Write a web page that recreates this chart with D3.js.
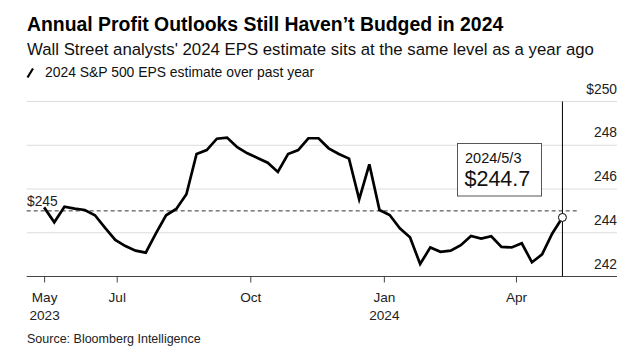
<!DOCTYPE html>
<html lang="en">
	<head>
		<meta charset="utf-8">
		<title>EPS estimate</title>
		<script type="text/javascript" src="https://d3js.org/d3.v7.min.js"></script>
		<style type="text/css">
			body { margin: 0; background: #fff; }
			text { font-family: "Liberation Sans", Arial, Helvetica, sans-serif; }
		</style>
	</head>
	<body>
		<script type="text/javascript">
			//Width and height
			var w = 639;
			var h = 354;

			//Data: weekly 2024 S&P 500 EPS estimate
			var dates = [
				"2023-05-12","2023-05-19","2023-05-26","2023-06-02","2023-06-09","2023-06-16","2023-06-23","2023-06-30",
				"2023-07-07","2023-07-14","2023-07-21","2023-07-28","2023-08-04","2023-08-11","2023-08-18","2023-08-25",
				"2023-09-01","2023-09-08","2023-09-15","2023-09-22","2023-09-29","2023-10-06","2023-10-13","2023-10-20",
				"2023-10-27","2023-11-03","2023-11-10","2023-11-17","2023-11-24","2023-12-01","2023-12-08","2023-12-15",
				"2023-12-22","2023-12-29","2024-01-05","2024-01-12","2024-01-19","2024-01-26","2024-02-02","2024-02-09",
				"2024-02-16","2024-02-23","2024-03-01","2024-03-08","2024-03-15","2024-03-22","2024-03-29","2024-04-05",
				"2024-04-12","2024-04-19","2024-04-26","2024-05-03"
			];
			var eps = [
				245.16, 244.48, 245.19, 245.10, 245.04, 244.80, 244.22, 243.67, 243.39, 243.18,
				243.09, 243.97, 244.80, 245.09, 245.76, 247.60, 247.78, 248.30, 248.35, 247.91,
				247.63, 247.42, 247.20, 246.78, 247.60, 247.78, 248.32, 248.32, 247.86, 247.60,
				247.39, 245.53, 247.13, 245.04, 244.81, 244.20, 243.79, 242.57, 243.33, 243.13,
				243.18, 243.43, 243.85, 243.73, 243.84, 243.35, 243.33, 243.52, 242.65, 243.01,
				243.97, 244.70
			];
			var yTicks = [242, 244, 246, 248, 250];
			var xTickDates = ["2023-05-12", "2023-07-01", "2023-10-01", "2024-01-01", "2024-04-01"];
			var xTickLabels = [["May", "2023"], ["Jul"], ["Oct"], ["Jan", "2024"], ["Apr"]];
			var refValue = 245;
			var lastLabel = "2024/5/3";

			var parse = d3.timeParse("%Y-%m-%d");
			var dataset = dates.map(function(d, i) {
				return { date: parse(d), value: eps[i] };
			});
			var last = dataset[dataset.length - 1];

			//Scales
			var xScale = d3.scaleTime()
				.domain([new Date(2023, 3, 30), new Date(2024, 5, 9, 14)])
				.range([26.7, 617]);

			var yScale = d3.scaleLinear()
				.domain([242, 250])
				.range([276.5, 101.5]);

			//Create SVG element
			var svg = d3.select("body")
				.append("svg")
				.attr("width", w)
				.attr("height", h);

			//Titles
			svg.append("text")
				.attr("x", 27)
				.attr("y", 30.5)
				.style("font-size", "19.4px")
				.style("font-weight", "bold")
				.attr("fill", "#000")
				.text("Annual Profit Outlooks Still Haven\u2019t Budged in 2024");

			svg.append("text")
				.attr("x", 27)
				.attr("y", 54.5)
				.style("font-size", "16.8px")
				.attr("fill", "#111")
				.text("Wall Street analysts' 2024 EPS estimate sits at the same level as a year ago");

			//Legend
			svg.append("line")
				.attr("x1", 27.5).attr("y1", 77.5)
				.attr("x2", 33).attr("y2", 68.5)
				.attr("stroke", "#000")
				.attr("stroke-width", 2.2);
			svg.append("text")
				.attr("x", 45)
				.attr("y", 76.5)
				.style("font-size", "13.9px")
				.attr("fill", "#111")
				.text("2024 S&P 500 EPS estimate over past year");

			//Gridlines
			svg.selectAll(".grid")
				.data(yTicks.slice(1))
				.enter()
				.append("line")
				.attr("class", "grid")
				.attr("x1", 26.7)
				.attr("x2", 617)
				.attr("y1", function(d) { return yScale(d); })
				.attr("y2", function(d) { return yScale(d); })
				.attr("stroke", "#dcdcdc")
				.attr("stroke-width", 1);

			//Y axis labels
			var yAxis = d3.axisLeft(yScale)
				.tickValues(yTicks)
				.tickSize(0)
				.tickPadding(0)
				.tickFormat(function(d) { return d === 250 ? "$250" : d; });

			var yG = svg.append("g")
				.attr("transform", "translate(617,0)")
				.call(yAxis);
			yG.select(".domain").remove();
			yG.selectAll("text")
				.attr("dy", -8.3)
				.attr("fill", "#222")
				.style("font-size", "13.8px")
				.style("font-family", "'Liberation Sans', Arial, sans-serif");

			//X axis
			var xAxis = d3.axisBottom(xScale)
				.tickValues(xTickDates.map(parse))
				.tickSize(6)
				.tickPadding(0)
				.tickFormat("");

			var xG = svg.append("g")
				.attr("transform", "translate(0," + yScale(242) + ")")
				.call(xAxis);
			xG.select(".domain")
				.attr("d", "M26.7,0H617")
				.attr("stroke", "#444");
			xG.selectAll(".tick line").attr("stroke", "#444");
			xG.selectAll(".tick text").remove();

			xG.selectAll(".tick")
				.each(function(d, i) {
					var t = d3.select(this).append("text")
						.attr("text-anchor", "middle")
						.attr("fill", "#222")
						.style("font-size", "13.6px")
						.style("font-family", "'Liberation Sans', Arial, sans-serif");
					xTickLabels[i].forEach(function(lbl, j) {
						t.append("tspan")
							.attr("x", 0)
							.attr("y", 25 + j * 18)
							.text(lbl);
					});
				});

			//Reference dashed line at $245
			svg.append("line")
				.attr("x1", 26.7)
				.attr("x2", 578)
				.attr("y1", yScale(refValue))
				.attr("y2", yScale(refValue))
				.attr("stroke", "#333")
				.attr("stroke-width", 1)
				.attr("stroke-dasharray", "4,3");

			svg.append("text")
				.attr("x", 27)
				.attr("y", yScale(refValue) - 5)
				.style("font-size", "13.8px")
				.attr("fill", "#222")
				.text("$245");

			//Vertical marker at latest date
			svg.append("line")
				.attr("x1", xScale(last.date))
				.attr("x2", xScale(last.date))
				.attr("y1", yScale(250))
				.attr("y2", yScale(242))
				.attr("stroke", "#000")
				.attr("stroke-width", 1);

			//Line
			var line = d3.line()
				.x(function(d) { return xScale(d.date); })
				.y(function(d) { return yScale(d.value); });

			svg.append("path")
				.datum(dataset)
				.attr("d", line)
				.attr("fill", "none")
				.attr("stroke", "#000")
				.attr("stroke-width", 2.7)
				.attr("stroke-linejoin", "miter");

			svg.append("circle")
				.attr("cx", xScale(last.date))
				.attr("cy", yScale(last.value))
				.attr("r", 4)
				.attr("fill", "#fff")
				.attr("stroke", "#000")
				.attr("stroke-width", 1);

			//Annotation box
			svg.append("rect")
				.attr("x", 457.5)
				.attr("y", 143.5)
				.attr("width", 84)
				.attr("height", 52.5)
				.attr("fill", "#fff")
				.attr("stroke", "#555")
				.attr("stroke-width", 1);

			svg.append("text")
				.attr("x", 465)
				.attr("y", 163.3)
				.style("font-size", "14.5px")
				.attr("fill", "#111")
				.text(lastLabel);

			svg.append("text")
				.attr("x", 464.5)
				.attr("y", 185.5)
				.style("font-size", "21.5px")
				.attr("fill", "#111")
				.text("$" + d3.format(".1f")(last.value));

			//Source
			svg.append("text")
				.attr("x", 27)
				.attr("y", 343)
				.style("font-size", "12.5px")
				.attr("fill", "#222")
				.text("Source: Bloomberg Intelligence");
		</script>
	</body>
</html>
